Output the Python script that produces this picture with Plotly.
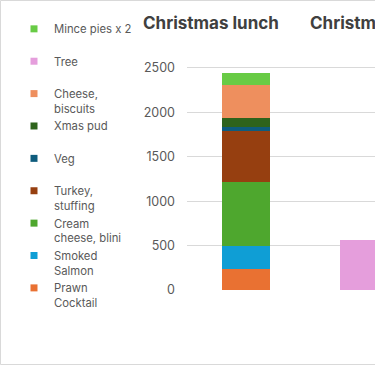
import plotly.graph_objects as go

categories = ["Christmas lunch", "Christmas tree"]

series_names = ["Prawn<br>Cocktail", "Smoked<br>Salmon", "Cream<br>cheese, blini",
                "Turkey,<br>stuffing", "Veg", "Xmas pud", "Cheese,<br>biscuits",
                "Tree", "Mince pies x 2"]
series_values = [
    [240, None],
    [255, None],
    [725, None],
    [570, None],
    [50, None],
    [95, None],
    [375, None],
    [None, 560],
    [130, None],
]
series_colors = ["#E97132", "#0F9ED5", "#4EA72E", "#963F10", "#0E5C7D",
                 "#2E631C", "#EE8F5E", "#E59EDC", "#68CB45"]

y_ticks = [0, 500, 1000, 1500, 2000, 2500]

FONT = "Inter, Liberation Sans, sans-serif"
GREY = "#595959"

fig = go.Figure()
for name, vals, col in zip(series_names, series_values, series_colors):
    fig.add_trace(go.Bar(x=categories, y=vals, name=name, marker_color=col,
                         marker_line_width=0, showlegend=False,
                         legendgroup=name))

# legend entries (top to bottom)
for name, col in reversed(list(zip(series_names, series_colors))):
    label = name if "<br>" in name else name + "<br> "
    fig.add_trace(go.Scatter(x=[None], y=[None], mode="markers", name=label,
                             legendgroup=name,
                             marker=dict(symbol="square", size=7, color=col)))

L, R, T, B = 187, 0, 59, 76
W, H = 375, 366
pw = W - L - R
ph = H - T - B
cat_px = 118

def px_x(px):
    return (px - L) / pw

def px_y(py):
    return (H - B - py) / ph

fig.update_layout(
    width=W, height=H,
    margin=dict(l=L, r=R, t=T, b=B),
    barmode="stack", bargap=0.6,
    plot_bgcolor="white", paper_bgcolor="white",
    font=dict(family=FONT, color=GREY),
    xaxis=dict(range=[-0.5, -0.5 + pw / cat_px], showticklabels=False,
               showgrid=False, zeroline=False, showline=False, fixedrange=True),
    yaxis=dict(range=[0, 2600], tickvals=y_ticks, showgrid=True,
               gridcolor="#D9D9D9", gridwidth=1, zeroline=False,
               showline=False, ticks="", ticklabelstandoff=11,
               tickfont=dict(size=12.5, color=GREY, family=FONT)),
    legend=dict(traceorder="normal", xref="container", yref="container",
                x=14 / W, y=1 - 15 / H, xanchor="left", yanchor="top",
                valign="top", font=dict(size=11.3, color=GREY, family=FONT),
                bgcolor="rgba(0,0,0,0)", itemwidth=30, maxheight=400),
    showlegend=True,
    annotations=[
        dict(text="<b>Christmas lunch</b>", xref="paper", yref="paper",
             x=px_x(211), y=px_y(23), xanchor="center", yanchor="middle",
             showarrow=False, font=dict(size=17, color="#404040", family=FONT)),
        dict(text="<b>Christmas tree</b>", xref="paper", yref="paper",
             x=px_x(308), y=px_y(23), xanchor="left", yanchor="middle",
             showarrow=False, font=dict(size=17, color="#404040", family=FONT)),
    ],
    shapes=[
        dict(type="rect", xref="paper", yref="paper", x0=px_x(0.5), x1=px_x(400),
             y0=px_y(364.5), y1=px_y(0.5), line=dict(color="#D9D9D9", width=1),
             layer="below"),
    ],
)

fig.write_html("out.html", config={"displayModeBar": False},
               post_script="document.body.style.margin='0';document.body.style.overflow='hidden';")
